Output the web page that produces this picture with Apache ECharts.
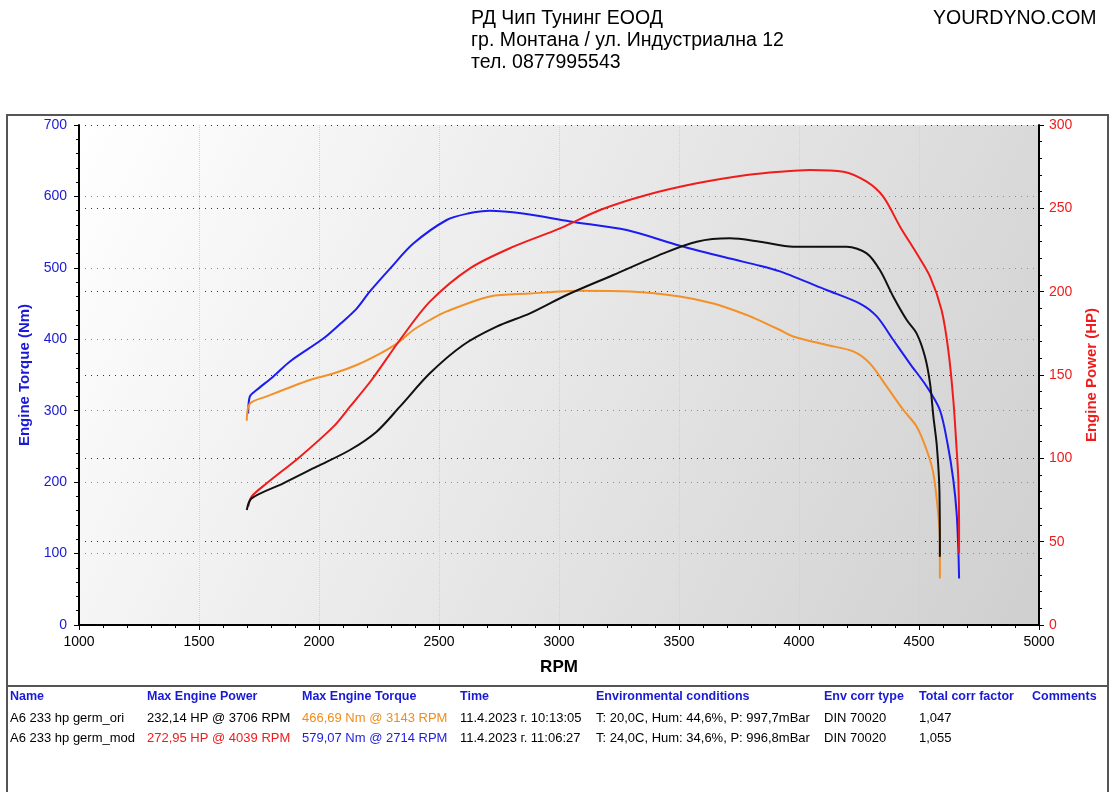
<!DOCTYPE html>
<html>
<head>
<meta charset="utf-8">
<script src="https://cdn.jsdelivr.net/npm/echarts@6/dist/echarts.min.js"></script>
<style>
html,body{margin:0;padding:0;background:#fff;}
#main{width:1116px;height:792px;}
</style>
</head>
<body>
<div id="main"></div>
<script>
// mod run, torque (blue)
var modTorqueRpm = [1705,1712,1740,1810,1879,2018,2090,2157,2212,2296,2393,2532,2620,2712,2850,3046,3282,3504,3712,3837,3921,4115,4254,4324,4393,4462,4532,4587,4620,4643,4657,4664,4667];
var modTorqueNm  = [296,320,329,348,369,401,422,443,467,499,534,567,576,580,576,565,553,531,513,503,495,469,450,432,399,366,334,301,252,203,156,105,65];
// ori run, torque (orange)
var oriTorqueRpm = [1699,1712,1782,1962,2060,2157,2254,2324,2393,2462,2532,2712,2879,3087,3296,3504,3643,3782,3850,3921,3976,4115,4226,4296,4365,4435,4490,4532,4560,4581,4587,4587];
var oriTorqueNm  = [286,310,320,343,352,364,380,394,413,427,439,460,464,468,467,460,450,434,424,413,404,392,383,366,334,301,278,245,212,152,119,65];
// mod run, power (red)
var modPowerRpm = [1705,1719,1782,1921,2060,2129,2219,2337,2462,2629,2810,3004,3171,3365,3574,3782,3921,4046,4185,4282,4351,4421,4490,4546,4594,4622,4643,4657,4664,4667,4667];
var modPowerHp  = [71,77,85,101,119,131,147,171,194,214,227,238,249,258,265,270,272,273,272,266,257,239,223,209,189,165,135,105,87,61,43];
// ori run, power (black)
var oriPowerRpm = [1699,1719,1851,1990,2129,2240,2337,2462,2601,2740,2879,3032,3226,3435,3574,3712,3837,3976,4101,4199,4282,4337,4393,4449,4490,4525,4546,4560,4574,4585,4587];
var oriPowerHp  = [69,76,85,95,105,116,131,151,168,179,187,198,210,223,230,232,230,227,227,227,223,213,197,183,175,161,145,125,108,81,41];

var headerLines = ['РД Чип Тунинг ЕООД','гр. Монтана / ул. Индустриална 12','тел. 0877995543'];
var tableHead = ['Name','Max Engine Power','Max Engine Torque','Time','Environmental conditions','Env corr type','Total corr factor','Comments'];
var tableCols = [10,147,302,460,596,824,919,1032];
var tableRows = [
    ['A6 233 hp germ_ori','232,14 HP @ 3706 RPM','466,69 Nm @ 3143 RPM','11.4.2023 г. 10:13:05','T: 20,0C, Hum: 44,6%, P: 997,7mBar','DIN 70020','1,047',''],
    ['A6 233 hp germ_mod','272,95 HP @ 4039 RPM','579,07 Nm @ 2714 RPM','11.4.2023 г. 11:06:27','T: 24,0C, Hum: 34,6%, P: 996,8mBar','DIN 70020','1,055','']
];
var rowColors = [
    ['#000','#000','#f08c1c','#000','#000','#000','#000','#000'],
    ['#000','#ee1c1c','#1c1cdd','#000','#000','#000','#000','#000']
];

function zip(a,b){
    var out=[];
    for(var i=0;i<a.length;i++){ out.push([a[i],b[i]]); }
    return out;
}

var FONT='Liberation Sans, Arial, sans-serif';
var chart=echarts.init(document.getElementById('main'));

var graphics=[];
// frames
graphics.push({type:'rect',shape:{x:7,y:115,width:1101,height:571},style:{fill:null,stroke:'#555',lineWidth:2},z:-1});
graphics.push({type:'line',shape:{x1:7,y1:687,x2:7,y2:792},style:{stroke:'#555',lineWidth:2},z:-1});
graphics.push({type:'line',shape:{x1:1108,y1:687,x2:1108,y2:792},style:{stroke:'#555',lineWidth:2},z:-1});
// header
for(var i=0;i<headerLines.length;i++){
    graphics.push({type:'text',left:471,top:9+i*22,style:{text:headerLines[i],fill:'#000',font:'19.5px '+FONT}});
}
graphics.push({type:'text',left:933,top:9,style:{text:'YOURDYNO.COM',fill:'#000',font:'19.5px '+FONT}});
// table
for(var c=0;c<tableHead.length;c++){
    graphics.push({type:'text',left:tableCols[c],top:690,style:{text:tableHead[c],fill:'#1a1ad6',font:'bold 12.5px '+FONT}});
    for(var r=0;r<tableRows.length;r++){
        if(!tableRows[r][c]) continue;
        graphics.push({type:'text',left:tableCols[c],top:712+r*20,style:{text:tableRows[r][c],fill:rowColors[r][c],font:'13px '+FONT}});
    }
}

var option={
    backgroundColor:'#fff',
    animation:false,
    grid:{
        left:79,right:77,top:125,bottom:167,
        show:true,
        borderWidth:0,
        backgroundColor:{type:'linear',x:0,y:0,x2:1,y2:1,colorStops:[{offset:0,color:'#ffffff'},{offset:1,color:'#cfcfcf'}]}
    },
    xAxis:[{
        type:'value',min:1000,max:5000,interval:500,
        name:'RPM',nameLocation:'middle',nameGap:34,
        nameTextStyle:{fontFamily:FONT,fontSize:17,fontWeight:'bold',color:'#000'},
        axisLine:{lineStyle:{color:'#000',width:2}},
        axisTick:{length:5,lineStyle:{color:'#000'}},
        minorTick:{show:true,splitNumber:5,length:3,lineStyle:{color:'#000'}},
        axisLabel:{fontFamily:FONT,fontSize:14,color:'#000',margin:10,formatter:function(v){return String(v);}},
        splitLine:{show:true,lineStyle:{color:'#d0d0d0',type:'dotted'}}
    },{
        type:'value',min:1000,max:5000,interval:500,position:'top',
        axisLine:{show:true,lineStyle:{color:'#000',width:2}},
        axisTick:{show:true,inside:true,length:4,lineStyle:{color:'#000'}},
        minorTick:{show:true,splitNumber:5,length:3,lineStyle:{color:'#000'}},
        axisLabel:{show:false},
        splitLine:{show:false}
    }],
    yAxis:[{
        type:'value',min:0,max:700,interval:100,
        name:'Engine Torque (Nm)',nameLocation:'middle',nameGap:45,nameRotate:90,
        nameTextStyle:{fontFamily:FONT,fontSize:15,fontWeight:'bold',color:'#1a1ad6'},
        axisLine:{show:true,lineStyle:{color:'#000',width:2}},
        axisTick:{show:true,length:5,lineStyle:{color:'#000'}},
        minorTick:{show:true,splitNumber:5,length:3,lineStyle:{color:'#000'}},
        axisLabel:{fontFamily:FONT,fontSize:14,color:'#1a1ad6',margin:12},
        splitLine:{show:true,lineStyle:{color:'#e06868',type:[1,5],width:1}}
    },{
        type:'value',min:0,max:300,interval:50,position:'right',
        name:'Engine Power (HP)',nameLocation:'middle',nameGap:45,nameRotate:90,
        nameTextStyle:{fontFamily:FONT,fontSize:15,fontWeight:'bold',color:'#ee1c1c'},
        axisLine:{show:true,lineStyle:{color:'#000',width:2}},
        axisTick:{show:true,length:5,lineStyle:{color:'#000'}},
        minorTick:{show:true,splitNumber:5,length:3,lineStyle:{color:'#000'}},
        axisLabel:{fontFamily:FONT,fontSize:14,color:'#ee1c1c',margin:10},
        splitLine:{show:true,lineStyle:{color:'#333',type:[1,5],width:1}}
    }],
    series:[
        {name:'mod torque',type:'line',yAxisIndex:0,data:zip(modTorqueRpm,modTorqueNm),smooth:0.3,showSymbol:false,lineStyle:{color:'#1c1cf0',width:2},z:3},
        {name:'ori torque',type:'line',yAxisIndex:0,data:zip(oriTorqueRpm,oriTorqueNm),smooth:0.3,showSymbol:false,lineStyle:{color:'#f39028',width:2},z:3},
        {name:'mod power',type:'line',yAxisIndex:1,data:zip(modPowerRpm,modPowerHp),smooth:0.3,showSymbol:false,lineStyle:{color:'#f01c1c',width:2},z:3},
        {name:'ori power',type:'line',yAxisIndex:1,data:zip(oriPowerRpm,oriPowerHp),smooth:0.3,showSymbol:false,lineStyle:{color:'#111',width:2},z:3}
    ],
    graphic:graphics
};
chart.setOption(option);
</script>
</body>
</html>
